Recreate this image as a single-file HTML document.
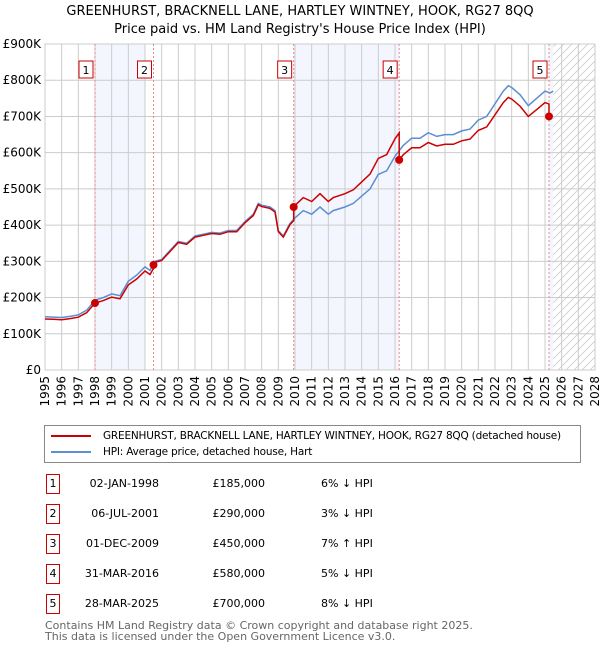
<!DOCTYPE html>
<html><head><meta charset="utf-8">
<style>
body{margin:0;background:#fff;font-family:"DejaVu Sans","Liberation Sans",sans-serif;}
#wrap{position:relative;width:600px;height:650px;overflow:hidden;}
.t{position:absolute;white-space:nowrap;color:#000;}
</style></head><body>
<div id="wrap">
<div class="t" style="left:0;width:600px;text-align:center;top:4px;font-size:13px;">GREENHURST, BRACKNELL LANE, HARTLEY WINTNEY, HOOK, RG27 8QQ</div>
<div class="t" style="left:0;width:600px;text-align:center;top:22px;font-size:13px;">Price paid vs. HM Land Registry's House Price Index (HPI)</div>
<svg id="chart" width="600" height="420" style="position:absolute;left:0;top:0;"></svg>
<div style="position:absolute;left:44px;top:425px;width:535px;height:36px;border:1px solid #888;">
 <div style="position:absolute;left:6px;top:4px;font-size:10.5px;white-space:nowrap;letter-spacing:-0.2px;"><span style="display:inline-block;width:40px;height:2px;background:#cc0000;vertical-align:middle;margin-right:12px;"></span>GREENHURST, BRACKNELL LANE, HARTLEY WINTNEY, HOOK, RG27 8QQ (detached house)</div>
 <div style="position:absolute;left:6px;top:20px;font-size:10.5px;white-space:nowrap;letter-spacing:-0.2px;"><span style="display:inline-block;width:40px;height:2px;background:#5b8fd0;vertical-align:middle;margin-right:12px;"></span>HPI: Average price, detached house, Hart</div>
</div>
<div id="table"></div>
<div class="t" style="left:45px;top:620px;font-size:11px;color:#666;line-height:11px;">Contains HM Land Registry data © Crown copyright and database right 2025.<br>This data is licensed under the Open Government Licence v3.0.</div>
</div>
<script>
const hpiYears=[1995,1995.5,1996,1996.5,1997,1997.5,1998,1998.5,1999,1999.5,2000,2000.5,2001,2001.3,2001.6,2002,2002.5,2003,2003.5,2004,2004.5,2005,2005.5,2006,2006.5,2007,2007.5,2007.8,2008,2008.5,2008.8,2009,2009.3,2009.7,2010,2010.5,2011,2011.5,2012,2012.3,2013,2013.5,2014,2014.5,2015,2015.5,2016,2016.5,2017,2017.5,2018,2018.5,2019,2019.5,2020,2020.5,2021,2021.5,2022,2022.5,2022.8,2023,2023.5,2024,2024.5,2025,2025.3,2025.5];
const hpiValues=[147,146,145,148,152,165,193,200,210,205,245,262,285,275,300,305,330,355,350,370,375,380,378,385,385,410,430,460,455,450,440,385,370,405,420,440,430,450,430,440,450,460,480,500,540,550,590,620,640,640,655,645,650,650,660,665,690,700,735,770,785,780,760,730,750,770,765,770];
const saleYears=[1998.0,2001.51,2009.92,2016.25,2025.24];
const salePrices=[185,290,450,580,700];
const saleLabels=["1","2","3","4","5"];
const saleDates=["02-JAN-1998","06-JUL-2001","01-DEC-2009","31-MAR-2016","28-MAR-2025"];
const salePriceText=["£185,000","£290,000","£450,000","£580,000","£700,000"];
const saleDiff=["6% ↓ HPI","3% ↓ HPI","7% ↑ HPI","5% ↓ HPI","8% ↓ HPI"];
const yTicks=[0,100,200,300,400,500,600,700,800,900];
const yTickLabels=["£0","£100K","£200K","£300K","£400K","£500K","£600K","£700K","£800K","£900K"];
const xTicks=[1995,1996,1997,1998,1999,2000,2001,2002,2003,2004,2005,2006,2007,2008,2009,2010,2011,2012,2013,2014,2015,2016,2017,2018,2019,2020,2021,2022,2023,2024,2025,2026,2027,2028];

const L=45,R=595,T=44,B=370,x0=1995,x1=2028,ymax=900;
const X=v=>L+(v-x0)/(x1-x0)*(R-L);
const Y=v=>B-v/ymax*(B-T);
const NS="http://www.w3.org/2000/svg";
const svg=document.getElementById('chart');
function mk(tag,attrs,parent){const e=document.createElementNS(NS,tag);for(const k in attrs)e.setAttribute(k,attrs[k]);(parent||svg).appendChild(e);return e;}
function hpiAt(t){for(let i=0;i<hpiYears.length-1;i++){if(t<=hpiYears[i+1]){const f=(t-hpiYears[i])/(hpiYears[i+1]-hpiYears[i]);return hpiValues[i]+f*(hpiValues[i+1]-hpiValues[i]);}}return hpiValues[hpiValues.length-1];}

const defs=mk('defs',{});
const pat=mk('pattern',{id:'hatch',width:8,height:8,patternUnits:'userSpaceOnUse'},defs);
mk('rect',{width:8,height:8,fill:'#fff'},pat);
mk('path',{d:'M0,8 L8,0 M-2,2 L2,-2 M6,10 L10,6',stroke:'#ccc','stroke-width':0.8},pat);

let b=mk('rect',{x:X(saleYears[0]),y:T,width:X(2001.0)-X(saleYears[0]),height:B-T,fill:'#f3f6fe'});

b=mk('rect',{x:X(saleYears[2]),y:T,width:X(saleYears[3])-X(saleYears[2]),height:B-T,fill:'#f3f6fe'});

b=mk('rect',{x:X(saleYears[4]),y:T,width:X(2025.5)-X(saleYears[4]),height:B-T,fill:'#f3f6fe'});

b=mk('rect',{x:X(2025.5),y:T,width:R-X(2025.5),height:B-T,fill:'url(#hatch)'});


yTicks.forEach((v,i)=>{
  const g=mk('line',{x1:L,x2:R,y1:Y(v),y2:Y(v),stroke:'#ccc','stroke-width':1});
  
  const t=mk('text',{x:L-4,y:Y(v)+4,'text-anchor':'end','font-size':12,fill:'#000','font-family':'DejaVu Sans, Liberation Sans, sans-serif'});
  t.textContent=yTickLabels[i];
  
});
xTicks.forEach(v=>{
  const g=mk('line',{x1:X(v),x2:X(v),y1:T,y2:B,stroke:'#ccc','stroke-width':1});
  
  const t=mk('text',{x:0,y:0,'text-anchor':'end','font-size':12,fill:'#000','font-family':'DejaVu Sans, Liberation Sans, sans-serif',transform:`translate(${X(v)+4},${B+6}) rotate(-90)`});
  t.textContent=v;
  
});
const frame=mk('rect',{x:L,y:T,width:R-L,height:B-T,fill:'none',stroke:'#ccc'});


saleYears.forEach((s,i)=>{
  const l=mk('line',{x1:X(s),x2:X(s),y1:T,y2:B,stroke:'#e88','stroke-width':1,'stroke-dasharray':'2,2'});
  
});

let d='';hpiYears.forEach((t,i)=>{d+=(i?'L':'M')+X(t).toFixed(1)+','+Y(hpiValues[i]).toFixed(1);});
const hl=mk('path',{d:d,fill:'none',stroke:'#5b8fd0','stroke-width':1.5});


const ts=[...hpiYears,...saleYears].sort((a,b)=>a-b);
let d2='';let prevK=0;
ts.forEach(t=>{
  if(t>2025.4)return;
  let k=0;for(let j=0;j<saleYears.length;j++)if(t>=saleYears[j])k=j;
  if(k!==prevK){d2+='L'+X(t).toFixed(1)+','+Y(hpiAt(t)*salePrices[prevK]/hpiAt(saleYears[prevK])).toFixed(1);prevK=k;}
  d2+=(d2?'L':'M')+X(t).toFixed(1)+','+Y(hpiAt(t)*salePrices[k]/hpiAt(saleYears[k])).toFixed(1);
});
const pl=mk('path',{d:d2,fill:'none',stroke:'#cc0000','stroke-width':1.5});


saleYears.forEach((s,i)=>{
  const c=mk('circle',{cx:X(s),cy:Y(salePrices[i]),r:4,fill:'#cc0000'});
  
  const r=mk('rect',{x:X(s)-16,y:61,width:14,height:17,fill:'#fff',stroke:'#cc0000'});
  
  const t=mk('text',{x:X(s)-9,y:74,'text-anchor':'middle','font-size':11,'font-family':'DejaVu Sans, sans-serif'});
  t.textContent=saleLabels[i];
  
});

const tbl=document.getElementById('table');
const rowY=[474,504,534,564,594];
saleLabels.forEach((lab,i)=>{
  const row=document.createElement('div');
  
  
  row.style.cssText=`position:absolute;left:0;top:${rowY[i]}px;width:600px;height:20px;font-size:11px;`;
  row.innerHTML=`<div style="position:absolute;left:46px;top:0;width:12px;height:18px;border:1px solid #cc0000;text-align:center;line-height:18px;">${lab}</div>`+
  `<div style="position:absolute;right:441px;top:3px;">${saleDates[i]}</div>`+
  `<div style="position:absolute;right:335px;top:3px;">${salePriceText[i]}</div>`+
  `<div style="position:absolute;left:321px;top:3px;">${saleDiff[i]}</div>`;
  tbl.appendChild(row);
});
</script>
</body></html>
